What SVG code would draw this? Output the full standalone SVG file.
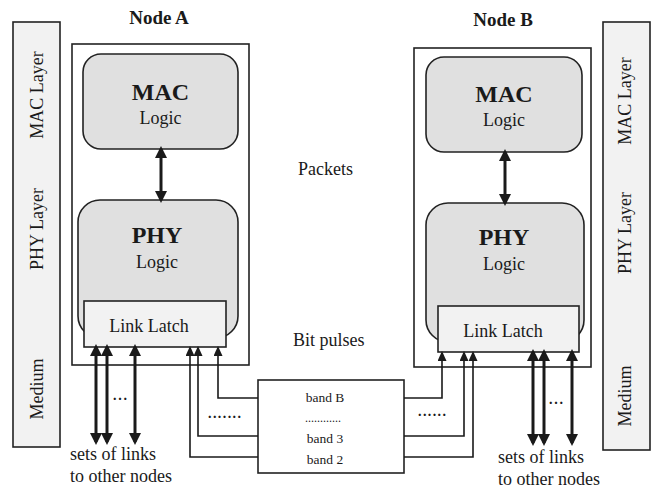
<svg xmlns="http://www.w3.org/2000/svg" width="654" height="491" viewBox="0 0 654 491">
  <style>
    text { font-family: "Liberation Serif", "Times New Roman", serif; fill: #1a1a1a; }
    .box { fill: #ffffff; stroke: #222; stroke-width: 1.6; }
    .bar { fill: #f2f2f2; stroke: #222; stroke-width: 1.6; }
    .logic { fill: #e0e0e0; stroke: #222; stroke-width: 1.6; }
    .latch { fill: #f2f2f2; stroke: #222; stroke-width: 1.6; }
    .title { font-size: 19px; font-weight: bold; text-anchor: middle; }
    .big { font-size: 24px; font-weight: bold; text-anchor: middle; }
    .lbl { font-size: 18px; }
    .mid { text-anchor: middle; }
    .band { font-size: 13.5px; text-anchor: middle; }
    .dots { font-size: 14px; font-weight: bold; }
    .thick { fill: none; stroke: #1a1a1a; stroke-width: 3; marker-start: url(#headBig); marker-end: url(#headBig); }
    .thin { fill: none; stroke: #1a1a1a; stroke-width: 1.6; marker-end: url(#headSmall); }
  </style>
  <defs>
    <marker id="headBig" viewBox="0 0 12 12" refX="9" refY="6" markerWidth="12" markerHeight="12" markerUnits="userSpaceOnUse" orient="auto-start-reverse">
      <path d="M0,0 L12,6 L0,12 z" fill="#1a1a1a"/>
    </marker>
    <marker id="headSmall" viewBox="0 0 10 9" refX="8" refY="4.5" markerWidth="10" markerHeight="9" markerUnits="userSpaceOnUse" orient="auto">
      <path d="M0,0 L10,4.5 L0,9 z" fill="#1a1a1a"/>
    </marker>
  </defs>

  <!-- layer bars -->
  <g id="layers-left">
    <rect class="bar" x="13" y="22" width="47" height="425"/>
    <text class="lbl mid" transform="translate(43,95) rotate(-90)">MAC Layer</text>
    <text class="lbl mid" transform="translate(43,229) rotate(-90)">PHY Layer</text>
    <text class="lbl mid" transform="translate(43,389) rotate(-90)">Medium</text>
  </g>
  <g id="layers-right">
    <rect class="bar" x="603" y="22" width="47" height="428"/>
    <text class="lbl mid" transform="translate(631,101) rotate(-90)">MAC Layer</text>
    <text class="lbl mid" transform="translate(631,233) rotate(-90)">PHY Layer</text>
    <text class="lbl mid" transform="translate(631,396) rotate(-90)">Medium</text>
  </g>

  <!-- Node A -->
  <g id="node-a">
    <text class="title" x="159" y="24">Node A</text>
    <rect class="box" x="72" y="44" width="177" height="321"/>
    <rect class="logic" x="83" y="54" width="155" height="95" rx="18"/>
    <text class="big" x="160.5" y="100">MAC</text>
    <text class="lbl mid" x="160.5" y="124">Logic</text>
    <rect class="logic" x="78" y="200" width="160" height="138" rx="22"/>
    <text class="big" x="157" y="243">PHY</text>
    <text class="lbl mid" x="157" y="268">Logic</text>
    <rect class="latch" x="84" y="301" width="142" height="46"/>
    <text class="lbl mid" x="149" y="332">Link Latch</text>
  </g>

  <!-- Node B -->
  <g id="node-b">
    <text class="title" x="503" y="26">Node B</text>
    <rect class="box" x="414" y="48" width="177" height="319"/>
    <rect class="logic" x="426" y="57" width="156" height="95" rx="18"/>
    <text class="big" x="504" y="102">MAC</text>
    <text class="lbl mid" x="504" y="126">Logic</text>
    <rect class="logic" x="426" y="203" width="158" height="139" rx="22"/>
    <text class="big" x="504" y="245">PHY</text>
    <text class="lbl mid" x="504" y="270">Logic</text>
    <rect class="latch" x="438" y="306" width="141" height="46"/>
    <text class="lbl mid" x="503" y="337">Link Latch</text>
  </g>

  <!-- frequency bands -->
  <g id="bands">
    <rect class="box" x="258" y="380" width="146" height="93"/>
    <text class="band" x="325" y="402">band B</text>
    <text x="305" y="422" font-size="12" textLength="36" lengthAdjust="spacing">............</text>
    <text class="band" x="325" y="443">band 3</text>
    <text class="band" x="325" y="464">band 2</text>
  </g>

  <!-- free labels -->
  <g id="labels">
    <text class="lbl" x="298" y="175">Packets</text>
    <text class="lbl" x="293" y="346">Bit pulses</text>
    <text class="lbl" x="70" y="460">sets of links</text>
    <text class="lbl" x="70" y="482">to other nodes</text>
    <text class="lbl" x="498" y="463">sets of links</text>
    <text class="lbl" x="498" y="485">to other nodes</text>
    <text class="dots" x="113" y="400" textLength="14" lengthAdjust="spacing">...</text>
    <text class="dots" x="549" y="404" textLength="14" lengthAdjust="spacing">...</text>
    <text class="dots" x="208" y="418" textLength="33" lengthAdjust="spacing">.......</text>
    <text class="dots" x="418" y="416" textLength="28" lengthAdjust="spacing">......</text>
  </g>

  <!-- connectors -->
  <g id="connectors">
    <path class="thick" d="M161,149 V200"/>
    <path class="thick" d="M505,152 V203"/>

    <path class="thick" d="M96,347 V442"/>
    <path class="thick" d="M107,347 V442"/>
    <path class="thick" d="M135,347 V442"/>
    <path class="thick" d="M533,352 V443"/>
    <path class="thick" d="M544,352 V443"/>
    <path class="thick" d="M572,352 V443"/>

    <path class="thin" d="M258,398 H218 V348"/>
    <path class="thin" d="M258,436 H198 V348"/>
    <path class="thin" d="M258,457 H190 V348"/>
    <path class="thin" d="M404,398 H442 V353"/>
    <path class="thin" d="M404,436 H464 V353"/>
    <path class="thin" d="M404,457 H473 V353"/>
  </g>
</svg>
